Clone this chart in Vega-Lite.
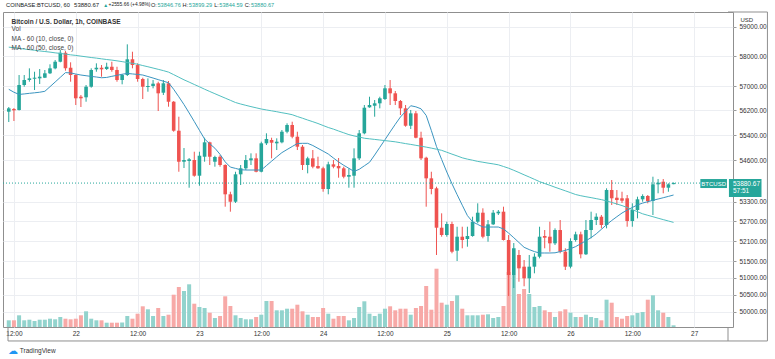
{
"$schema": "https://vega.github.io/schema/vega-lite/v6.json",
"width": 730, "height": 315,
"autosize": {"type": "none"},
"padding": {"left": 3, "top": 12, "right": 42, "bottom": 32},
"background": "white",
"config": {"font": "Liberation Sans", "view": {"stroke": "#8f8f8f", "strokeWidth": 1}},
"datasets": {"ohlc": [
{"t":"2021-03-21T11:00:00Z","o":56157,"h":56310,"l":55822,"c":56267,"v":268,"m10":56891,"m50":58299},
{"t":"2021-03-21T12:00:00Z","o":56245,"h":56277,"l":55855,"c":56202,"v":268,"m10":56795,"m50":58279},
{"t":"2021-03-21T13:00:00Z","o":56212,"h":57364,"l":56196,"c":57033,"v":468,"m10":56723,"m50":58259},
{"t":"2021-03-21T14:00:00Z","o":57033,"h":57364,"l":56977,"c":57198,"v":268,"m10":56739,"m50":58235},
{"t":"2021-03-21T15:00:00Z","o":57198,"h":57587,"l":57142,"c":57254,"v":292,"m10":56759,"m50":58215},
{"t":"2021-03-21T16:00:00Z","o":57241,"h":57474,"l":56868,"c":57275,"v":240,"m10":56776,"m50":58194},
{"t":"2021-03-21T17:00:00Z","o":57254,"h":57564,"l":57066,"c":57308,"v":292,"m10":56795,"m50":58171},
{"t":"2021-03-21T18:00:00Z","o":57275,"h":57531,"l":57264,"c":57421,"v":292,"m10":56825,"m50":58151},
{"t":"2021-03-21T19:00:00Z","o":57421,"h":57721,"l":57397,"c":57587,"v":332,"m10":56977,"m50":58131},
{"t":"2021-03-21T20:00:00Z","o":57587,"h":57865,"l":57554,"c":57808,"v":308,"m10":57132,"m50":58107},
{"t":"2021-03-21T21:00:00Z","o":57808,"h":58201,"l":57788,"c":58110,"v":400,"m10":57288,"m50":58087},
{"t":"2021-03-21T22:00:00Z","o":58110,"h":58167,"l":57508,"c":57587,"v":332,"m10":57444,"m50":58063},
{"t":"2021-03-21T23:00:00Z","o":57607,"h":57788,"l":57142,"c":57364,"v":308,"m10":57434,"m50":58040},
{"t":"2021-03-22T00:00:00Z","o":57364,"h":57387,"l":56375,"c":56595,"v":332,"m10":57397,"m50":58020},
{"t":"2021-03-22T01:00:00Z","o":56647,"h":56703,"l":56310,"c":56595,"v":468,"m10":57364,"m50":57996},
{"t":"2021-03-22T02:00:00Z","o":56628,"h":57033,"l":56483,"c":56977,"v":628,"m10":57341,"m50":57973},
{"t":"2021-03-22T03:00:00Z","o":56977,"h":57587,"l":56944,"c":57531,"v":332,"m10":57318,"m50":57949},
{"t":"2021-03-22T04:00:00Z","o":57554,"h":57754,"l":57474,"c":57607,"v":268,"m10":57298,"m50":57929},
{"t":"2021-03-22T05:00:00Z","o":57607,"h":57697,"l":57308,"c":57554,"v":268,"m10":57274,"m50":57905},
{"t":"2021-03-22T06:00:00Z","o":57564,"h":57774,"l":57531,"c":57640,"v":172,"m10":57284,"m50":57882},
{"t":"2021-03-22T07:00:00Z","o":57640,"h":57808,"l":57474,"c":57531,"v":172,"m10":57321,"m50":57862},
{"t":"2021-03-22T08:00:00Z","o":57531,"h":57640,"l":57142,"c":57198,"v":172,"m10":57354,"m50":57838},
{"t":"2021-03-22T09:00:00Z","o":57198,"h":57397,"l":57056,"c":57364,"v":180,"m10":57390,"m50":57811},
{"t":"2021-03-22T10:00:00Z","o":57364,"h":58394,"l":57331,"c":57889,"v":440,"m10":57417,"m50":57781},
{"t":"2021-03-22T11:00:00Z","o":57889,"h":58144,"l":57587,"c":57697,"v":332,"m10":57400,"m50":57754},
{"t":"2021-03-22T12:00:00Z","o":57697,"h":57754,"l":57142,"c":57231,"v":532,"m10":57384,"m50":57724},
{"t":"2021-03-22T13:00:00Z","o":57231,"h":57275,"l":56572,"c":56977,"v":828,"m10":57364,"m50":57680},
{"t":"2021-03-22T14:00:00Z","o":56967,"h":57254,"l":56812,"c":57000,"v":708,"m10":57314,"m50":57640},
{"t":"2021-03-22T15:00:00Z","o":57000,"h":57198,"l":56923,"c":57076,"v":440,"m10":57264,"m50":57597},
{"t":"2021-03-22T16:00:00Z","o":57089,"h":57142,"l":56179,"c":56759,"v":760,"m10":57211,"m50":57554},
{"t":"2021-03-22T17:00:00Z","o":56779,"h":57198,"l":56703,"c":57089,"v":440,"m10":57158,"m50":57511},
{"t":"2021-03-22T18:00:00Z","o":57089,"h":57165,"l":56320,"c":56483,"v":492,"m10":57109,"m50":57461},
{"t":"2021-03-22T19:00:00Z","o":56483,"h":56506,"l":55509,"c":55541,"v":1292,"m10":56891,"m50":57377},
{"t":"2021-03-22T20:00:00Z","o":55541,"h":55994,"l":54236,"c":54552,"v":1600,"m10":56644,"m50":57291},
{"t":"2021-03-22T21:00:00Z","o":54552,"h":54987,"l":54353,"c":54606,"v":1440,"m10":56391,"m50":57205},
{"t":"2021-03-22T22:00:00Z","o":54574,"h":54669,"l":53736,"c":54628,"v":1708,"m10":56117,"m50":57129},
{"t":"2021-03-22T23:00:00Z","o":54606,"h":54869,"l":54080,"c":54111,"v":932,"m10":55838,"m50":57050},
{"t":"2021-03-23T00:00:00Z","o":54111,"h":54869,"l":53798,"c":54742,"v":800,"m10":55554,"m50":56974},
{"t":"2021-03-23T01:00:00Z","o":54710,"h":55316,"l":54552,"c":55169,"v":760,"m10":55275,"m50":56894},
{"t":"2021-03-23T02:00:00Z","o":55169,"h":55189,"l":54448,"c":54710,"v":572,"m10":55121,"m50":56819},
{"t":"2021-03-23T03:00:00Z","o":54552,"h":54742,"l":54395,"c":54701,"v":360,"m10":54981,"m50":56746},
{"t":"2021-03-23T04:00:00Z","o":54710,"h":54764,"l":54395,"c":54448,"v":440,"m10":54786,"m50":56673},
{"t":"2021-03-23T05:00:00Z","o":54448,"h":54470,"l":53148,"c":53531,"v":1228,"m10":54546,"m50":56601},
{"t":"2021-03-23T06:00:00Z","o":53531,"h":53611,"l":52994,"c":53301,"v":840,"m10":54382,"m50":56529},
{"t":"2021-03-23T07:00:00Z","o":53301,"h":54236,"l":53262,"c":54155,"v":468,"m10":54341,"m50":56457},
{"t":"2021-03-23T08:00:00Z","o":54155,"h":54448,"l":53820,"c":54344,"v":360,"m10":54299,"m50":56408},
{"t":"2021-03-23T09:00:00Z","o":54344,"h":54764,"l":54290,"c":54606,"v":308,"m10":54290,"m50":56365},
{"t":"2021-03-23T10:00:00Z","o":54597,"h":54818,"l":54448,"c":54659,"v":308,"m10":54290,"m50":56323},
{"t":"2021-03-23T11:00:00Z","o":54659,"h":54818,"l":54217,"c":54236,"v":400,"m10":54290,"m50":56284},
{"t":"2021-03-23T12:00:00Z","o":54236,"h":55189,"l":54217,"c":55137,"v":492,"m10":54290,"m50":56245},
{"t":"2021-03-23T13:00:00Z","o":55137,"h":55458,"l":55083,"c":55275,"v":1040,"m10":54429,"m50":56215},
{"t":"2021-03-23T14:00:00Z","o":55243,"h":55316,"l":54659,"c":55157,"v":1040,"m10":54568,"m50":56186},
{"t":"2021-03-23T15:00:00Z","o":55137,"h":55297,"l":54923,"c":55189,"v":668,"m10":54707,"m50":56157},
{"t":"2021-03-23T16:00:00Z","o":55169,"h":55564,"l":55137,"c":55509,"v":668,"m10":54840,"m50":56124},
{"t":"2021-03-23T17:00:00Z","o":55509,"h":55780,"l":55458,"c":55725,"v":732,"m10":54939,"m50":56095},
{"t":"2021-03-23T18:00:00Z","o":55725,"h":55832,"l":55297,"c":55349,"v":732,"m10":55035,"m50":56059},
{"t":"2021-03-23T19:00:00Z","o":55349,"h":55509,"l":54923,"c":55029,"v":892,"m10":55131,"m50":56000},
{"t":"2021-03-23T20:00:00Z","o":55029,"h":55083,"l":54290,"c":54448,"v":628,"m10":55137,"m50":55945},
{"t":"2021-03-23T21:00:00Z","o":54448,"h":54710,"l":54186,"c":54659,"v":492,"m10":55137,"m50":55887},
{"t":"2021-03-23T22:00:00Z","o":54659,"h":54923,"l":54344,"c":54395,"v":400,"m10":55067,"m50":55832},
{"t":"2021-03-23T23:00:00Z","o":54417,"h":54710,"l":54330,"c":54344,"v":400,"m10":54977,"m50":55774},
{"t":"2021-03-24T00:00:00Z","o":54344,"h":54395,"l":53611,"c":53695,"v":760,"m10":54888,"m50":55709},
{"t":"2021-03-24T01:00:00Z","o":53695,"h":54552,"l":53531,"c":54470,"v":532,"m10":54796,"m50":55645},
{"t":"2021-03-24T02:00:00Z","o":54470,"h":54606,"l":54344,"c":54395,"v":332,"m10":54669,"m50":55593},
{"t":"2021-03-24T03:00:00Z","o":54417,"h":54669,"l":54049,"c":54344,"v":440,"m10":54546,"m50":55532},
{"t":"2021-03-24T04:00:00Z","o":54344,"h":54395,"l":54029,"c":54080,"v":440,"m10":54439,"m50":55474},
{"t":"2021-03-24T05:00:00Z","o":54080,"h":54344,"l":53736,"c":54133,"v":268,"m10":54344,"m50":55416},
{"t":"2021-03-24T06:00:00Z","o":54111,"h":54977,"l":53736,"c":54659,"v":360,"m10":54246,"m50":55374},
{"t":"2021-03-24T07:00:00Z","o":54659,"h":55564,"l":54606,"c":55458,"v":800,"m10":54312,"m50":55339},
{"t":"2021-03-24T08:00:00Z","o":55458,"h":56375,"l":55426,"c":56287,"v":1028,"m10":54423,"m50":55300},
{"t":"2021-03-24T09:00:00Z","o":56300,"h":56647,"l":56287,"c":56375,"v":532,"m10":54533,"m50":55281},
{"t":"2021-03-24T10:00:00Z","o":56352,"h":56539,"l":55994,"c":56431,"v":440,"m10":54764,"m50":55262},
{"t":"2021-03-24T11:00:00Z","o":56431,"h":56647,"l":56267,"c":56595,"v":532,"m10":55009,"m50":55243},
{"t":"2021-03-24T12:00:00Z","o":56572,"h":57033,"l":56539,"c":56924,"v":732,"m10":55252,"m50":55224},
{"t":"2021-03-24T13:00:00Z","o":56924,"h":57198,"l":56375,"c":56759,"v":828,"m10":55503,"m50":55205},
{"t":"2021-03-24T14:00:00Z","o":56759,"h":56835,"l":56375,"c":56506,"v":668,"m10":55748,"m50":55185},
{"t":"2021-03-24T15:00:00Z","o":56506,"h":56539,"l":56049,"c":56267,"v":732,"m10":55984,"m50":55157},
{"t":"2021-03-24T16:00:00Z","o":56267,"h":56375,"l":55670,"c":55702,"v":732,"m10":56166,"m50":55128},
{"t":"2021-03-24T17:00:00Z","o":55702,"h":56212,"l":55596,"c":56104,"v":492,"m10":56352,"m50":55102},
{"t":"2021-03-24T18:00:00Z","o":56104,"h":56179,"l":55297,"c":55316,"v":760,"m10":56316,"m50":55073},
{"t":"2021-03-24T19:00:00Z","o":55316,"h":55509,"l":54606,"c":54659,"v":840,"m10":56251,"m50":55045},
{"t":"2021-03-24T20:00:00Z","o":54678,"h":54710,"l":53148,"c":54029,"v":1640,"m10":56036,"m50":55016},
{"t":"2021-03-24T21:00:00Z","o":54029,"h":54236,"l":53531,"c":53695,"v":692,"m10":55548,"m50":54984},
{"t":"2021-03-24T22:00:00Z","o":53717,"h":53767,"l":51680,"c":52504,"v":2332,"m10":55035,"m50":54949},
{"t":"2021-03-24T23:00:00Z","o":52504,"h":52944,"l":52231,"c":52282,"v":972,"m10":54623,"m50":54913},
{"t":"2021-03-25T00:00:00Z","o":52282,"h":52687,"l":52231,"c":52617,"v":892,"m10":54227,"m50":54853},
{"t":"2021-03-25T01:00:00Z","o":52617,"h":52687,"l":51731,"c":51779,"v":1040,"m10":53861,"m50":54793},
{"t":"2021-03-25T02:00:00Z","o":51809,"h":52534,"l":51500,"c":52231,"v":1268,"m10":53521,"m50":54736},
{"t":"2021-03-25T03:00:00Z","o":52231,"h":52534,"l":51881,"c":52131,"v":732,"m10":53194,"m50":54676},
{"t":"2021-03-25T04:00:00Z","o":52161,"h":52534,"l":51929,"c":52252,"v":468,"m10":52874,"m50":54634},
{"t":"2021-03-25T05:00:00Z","o":52252,"h":52840,"l":52231,"c":52687,"v":468,"m10":52684,"m50":54600},
{"t":"2021-03-25T06:00:00Z","o":52687,"h":53252,"l":52638,"c":52963,"v":468,"m10":52604,"m50":54562},
{"t":"2021-03-25T07:00:00Z","o":52963,"h":53098,"l":52182,"c":52231,"v":492,"m10":52525,"m50":54536},
{"t":"2021-03-25T08:00:00Z","o":52252,"h":52739,"l":52080,"c":52607,"v":508,"m10":52525,"m50":54508},
{"t":"2021-03-25T09:00:00Z","o":52607,"h":53046,"l":52586,"c":52963,"v":360,"m10":52525,"m50":54483},
{"t":"2021-03-25T10:00:00Z","o":52944,"h":53046,"l":52892,"c":52994,"v":400,"m10":52525,"m50":54454},
{"t":"2021-03-25T11:00:00Z","o":52994,"h":53148,"l":52116,"c":52131,"v":840,"m10":52467,"m50":54401},
{"t":"2021-03-25T12:00:00Z","o":52131,"h":52282,"l":50466,"c":51084,"v":2200,"m10":52340,"m50":54347},
{"t":"2021-03-25T13:00:00Z","o":51084,"h":52040,"l":50700,"c":51881,"v":2080,"m10":52200,"m50":54281},
{"t":"2021-03-25T14:00:00Z","o":51680,"h":51830,"l":50886,"c":51282,"v":1320,"m10":52056,"m50":54212},
{"t":"2021-03-25T15:00:00Z","o":51331,"h":51530,"l":50751,"c":50986,"v":1520,"m10":51911,"m50":54139},
{"t":"2021-03-25T16:00:00Z","o":50986,"h":51680,"l":50554,"c":51331,"v":1320,"m10":51842,"m50":54070},
{"t":"2021-03-25T17:00:00Z","o":51331,"h":51731,"l":51134,"c":51629,"v":800,"m10":51782,"m50":53998},
{"t":"2021-03-25T18:00:00Z","o":51629,"h":52534,"l":51580,"c":52231,"v":840,"m10":51740,"m50":53926},
{"t":"2021-03-25T19:00:00Z","o":52252,"h":52434,"l":51881,"c":52201,"v":668,"m10":51740,"m50":53867},
{"t":"2021-03-25T20:00:00Z","o":52231,"h":52687,"l":51779,"c":52031,"v":600,"m10":51740,"m50":53811},
{"t":"2021-03-25T21:00:00Z","o":52031,"h":52485,"l":51980,"c":52434,"v":400,"m10":51746,"m50":53751},
{"t":"2021-03-25T22:00:00Z","o":52434,"h":52739,"l":51731,"c":51779,"v":628,"m10":51782,"m50":53695},
{"t":"2021-03-25T23:00:00Z","o":51779,"h":51881,"l":51232,"c":51331,"v":708,"m10":51818,"m50":53639},
{"t":"2021-03-26T00:00:00Z","o":51331,"h":52182,"l":51282,"c":52101,"v":572,"m10":51869,"m50":53583},
{"t":"2021-03-26T01:00:00Z","o":52131,"h":52383,"l":52080,"c":52303,"v":400,"m10":51932,"m50":53524},
{"t":"2021-03-26T02:00:00Z","o":52303,"h":52383,"l":51580,"c":51701,"v":400,"m10":52019,"m50":53487},
{"t":"2021-03-26T03:00:00Z","o":51701,"h":52739,"l":51680,"c":52434,"v":492,"m10":52110,"m50":53456},
{"t":"2021-03-26T04:00:00Z","o":52434,"h":52994,"l":52182,"c":52739,"v":400,"m10":52203,"m50":53428},
{"t":"2021-03-26T05:00:00Z","o":52739,"h":52944,"l":52586,"c":52840,"v":360,"m10":52318,"m50":53397},
{"t":"2021-03-26T06:00:00Z","o":52840,"h":52892,"l":52485,"c":52586,"v":268,"m10":52455,"m50":53366},
{"t":"2021-03-26T07:00:00Z","o":52586,"h":53717,"l":52485,"c":53664,"v":1092,"m10":52595,"m50":53326},
{"t":"2021-03-26T08:00:00Z","o":53664,"h":53976,"l":53200,"c":53407,"v":972,"m10":52724,"m50":53280},
{"t":"2021-03-26T09:00:00Z","o":53425,"h":53664,"l":53200,"c":53354,"v":400,"m10":52840,"m50":53231},
{"t":"2021-03-26T10:00:00Z","o":53407,"h":53611,"l":53262,"c":53333,"v":332,"m10":52953,"m50":53182},
{"t":"2021-03-26T11:00:00Z","o":53407,"h":53509,"l":52534,"c":52708,"v":440,"m10":53043,"m50":53123},
{"t":"2021-03-26T12:00:00Z","o":52708,"h":53252,"l":52534,"c":53046,"v":468,"m10":53123,"m50":53058},
{"t":"2021-03-26T13:00:00Z","o":53046,"h":53457,"l":52790,"c":53376,"v":560,"m10":53203,"m50":52994},
{"t":"2021-03-26T14:00:00Z","o":53376,"h":53531,"l":53301,"c":53478,"v":600,"m10":53259,"m50":52929},
{"t":"2021-03-26T15:00:00Z","o":53478,"h":53509,"l":53252,"c":53323,"v":1092,"m10":53302,"m50":52883},
{"t":"2021-03-26T16:00:00Z","o":53323,"h":54080,"l":52892,"c":53842,"v":1268,"m10":53345,"m50":52840},
{"t":"2021-03-26T17:00:00Z","o":53842,"h":54007,"l":53562,"c":53892,"v":668,"m10":53385,"m50":52794},
{"t":"2021-03-26T18:00:00Z","o":53923,"h":54007,"l":53562,"c":53736,"v":572,"m10":53425,"m50":52751},
{"t":"2021-03-26T19:00:00Z","o":53736,"h":53873,"l":53611,"c":53842,"v":400,"m10":53466,"m50":52709},
{"t":"2021-03-26T20:00:00Z","o":53846.76,"h":53899.29,"l":53844.59,"c":53880.67,"v":68,"m10":53509,"m50":52666}
]},
"layer": [
{"data": {"name": "ohlc"},
 "mark": {"type": "bar", "width": 4, "clip": true},
 "encoding": {
  "x": {"field": "t", "type": "temporal",
   "scale": {"type": "utc", "domain": [{"year":2021,"month":3,"date":21,"hours":10,"minutes":51,"utc":true},{"year":2021,"month":3,"date":27,"hours":6,"minutes":34,"utc":true}]},
   "axis": {"title": null, "values": [
     {"year":2021,"month":3,"date":21,"hours":12,"utc":true},{"year":2021,"month":3,"date":22,"hours":0,"utc":true},
     {"year":2021,"month":3,"date":22,"hours":12,"utc":true},{"year":2021,"month":3,"date":23,"hours":0,"utc":true},
     {"year":2021,"month":3,"date":23,"hours":12,"utc":true},{"year":2021,"month":3,"date":24,"hours":0,"utc":true},
     {"year":2021,"month":3,"date":24,"hours":12,"utc":true},{"year":2021,"month":3,"date":25,"hours":0,"utc":true},
     {"year":2021,"month":3,"date":25,"hours":12,"utc":true},{"year":2021,"month":3,"date":26,"hours":0,"utc":true},
     {"year":2021,"month":3,"date":26,"hours":12,"utc":true},{"year":2021,"month":3,"date":27,"hours":0,"utc":true}],
    "labelExpr": "utchours(datum.value) == 0 ? utcFormat(datum.value, '%-d') : '12:00'",
    "labelFontSize": 6.5, "labelColor": "#333333", "ticks": false, "domain": false, "grid": true, "gridColor": "#eceef2",
    "labelPadding": 3, "labelOverlap": false, "labelFlush": false, "labelBound": false}},
  "y": {"field": "v", "type": "quantitative", "scale": {"domain": [0, 12600]}, "axis": null},
  "color": {"condition": {"test": "datum.c >= datum.o", "value": "#92d3cd"}, "value": "#f7a9a7"}
 }},
{"layer": [
 {"data": {"name": "ohlc"},
  "mark": {"type": "rule", "strokeWidth": 1, "clip": true},
  "encoding": {
   "x": {"field": "t", "type": "temporal"},
   "y": {"field": "l", "type": "quantitative",
    "scale": {"type": "log", "domain": [49567, 59499], "nice": false, "zero": false},
    "axis": {"orient": "right", "title": null, "values": [50000,50500,51000,51500,52100,52700,53300,54600,55400,56200,57000,58000,59000],
     "format": ".2f", "labelFontSize": 6.5, "labelColor": "#333333", "tickSize": 3, "tickColor": "#9a9a9a", "domain": false,
     "grid": true, "gridColor": "#eceef2", "labelPadding": 3, "labelOverlap": false, "labelBound": false, "labelFlush": false}},
   "y2": {"field": "h"},
   "color": {"condition": {"test": "datum.c >= datum.o", "value": "#26a69a"}, "value": "#ef5350"}
  }},
 {"data": {"name": "ohlc"},
  "mark": {"type": "bar", "width": 3.6, "clip": true},
  "encoding": {
   "x": {"field": "t", "type": "temporal"},
   "y": {"field": "o", "type": "quantitative"},
   "y2": {"field": "c"},
   "color": {"condition": {"test": "datum.c >= datum.o", "value": "#26a69a"}, "value": "#ef5350"}
  }},
 {"data": {"name": "ohlc"},
  "mark": {"type": "line", "strokeWidth": 1, "color": "#3b95c0", "clip": true},
  "encoding": {"x": {"field": "t", "type": "temporal"}, "y": {"field": "m10", "type": "quantitative"}}},
 {"data": {"name": "ohlc"},
  "mark": {"type": "line", "strokeWidth": 1, "color": "#52bfc0", "clip": true},
  "encoding": {"x": {"field": "t", "type": "temporal"}, "y": {"field": "m50", "type": "quantitative"}}},
 {"data": {"values": [{}]},
  "mark": {"type": "rule", "strokeDash": [1, 2], "color": "#26a69a", "strokeWidth": 1},
  "encoding": {"y": {"datum": 53880.67, "type": "quantitative"}}},
 {"data": {"values": [{}]},
  "mark": {"type": "rect", "color": "#26a69a", "clip": false},
  "encoding": {
   "x": {"datum": {"year":2021,"month":3,"date":27,"hours":1,"minutes":12,"utc":true}, "type": "temporal"},
   "x2": {"datum": {"year":2021,"month":3,"date":27,"hours":6,"minutes":22,"utc":true}},
   "y": {"datum": 54007, "type": "quantitative"}, "y2": {"datum": 53726}}},
 {"data": {"values": [{}]},
  "mark": {"type": "rect", "color": "#26a69a", "clip": false},
  "encoding": {
   "x": {"datum": {"year":2021,"month":3,"date":27,"hours":6,"minutes":45,"utc":true}, "type": "temporal"},
   "x2": {"datum": {"year":2021,"month":3,"date":27,"hours":13,"minutes":4,"utc":true}},
   "y": {"datum": 54007, "type": "quantitative"}, "y2": {"datum": 53447}}},
 {"data": {"values": [{}]},
  "mark": {"type": "text", "text": "BTCUSD", "color": "white", "fontSize": 6, "align": "center", "baseline": "middle", "clip": false},
  "encoding": {"x": {"datum": {"year":2021,"month":3,"date":27,"hours":3,"minutes":47,"utc":true}, "type": "temporal"}, "y": {"datum": 53867, "type": "quantitative"}}},
 {"data": {"values": [{}]},
  "mark": {"type": "text", "text": "53880.67", "color": "white", "fontSize": 6.5, "align": "left", "baseline": "middle", "clip": false},
  "encoding": {"x": {"datum": {"year":2021,"month":3,"date":27,"hours":7,"minutes":31,"utc":true}, "type": "temporal"}, "y": {"datum": 53867, "type": "quantitative"}}},
 {"data": {"values": [{}]},
  "mark": {"type": "text", "text": "57:51", "color": "white", "fontSize": 6.5, "align": "left", "baseline": "middle", "clip": false},
  "encoding": {"x": {"datum": {"year":2021,"month":3,"date":27,"hours":7,"minutes":31,"utc":true}, "type": "temporal"}, "y": {"datum": 53633, "type": "quantitative"}}},
 {"data": {"values": [{}]},
  "mark": {"type": "text", "text": "USD", "color": "#333333", "fontSize": 6, "align": "center", "baseline": "middle", "clip": false},
  "encoding": {"x": {"datum": {"year":2021,"month":3,"date":27,"hours":10,"minutes":12,"utc":true}, "type": "temporal"}, "y": {"datum": 59239, "type": "quantitative"}}},
 {"data": {"values": [{}]},
  "mark": {"type": "text", "text": "Bitcoin / U.S. Dollar, 1h, COINBASE", "color": "#333333", "fontSize": 6.5, "fontWeight": "bold", "align": "left", "baseline": "middle", "clip": false},
  "encoding": {"x": {"datum": {"year":2021,"month":3,"date":21,"hours":11,"minutes":33,"utc":true}, "type": "temporal"}, "y": {"datum": 59164, "type": "quantitative"}}},
 {"data": {"values": [{}]},
  "mark": {"type": "text", "text": "Vol", "color": "#444444", "fontSize": 6.5, "align": "left", "baseline": "middle", "clip": false},
  "encoding": {"x": {"datum": {"year":2021,"month":3,"date":21,"hours":11,"minutes":33,"utc":true}, "type": "temporal"}, "y": {"datum": 58904, "type": "quantitative"}}},
 {"data": {"values": [{}]},
  "mark": {"type": "text", "text": "MA - 60 (10, close, 0)", "color": "#444444", "fontSize": 6.5, "align": "left", "baseline": "middle", "clip": false},
  "encoding": {"x": {"datum": {"year":2021,"month":3,"date":21,"hours":11,"minutes":33,"utc":true}, "type": "temporal"}, "y": {"datum": 58563, "type": "quantitative"}}},
 {"data": {"values": [{}]},
  "mark": {"type": "text", "text": "MA - 60 (50, close, 0)", "color": "#444444", "fontSize": 6.5, "align": "left", "baseline": "middle", "clip": false},
  "encoding": {"x": {"datum": {"year":2021,"month":3,"date":21,"hours":11,"minutes":33,"utc":true}, "type": "temporal"}, "y": {"datum": 58259, "type": "quantitative"}}},
 {"data": {"values": [{}]},
  "mark": {"type": "text", "text": "COINBASE:BTCUSD, 60", "color": "#131722", "fontSize": 5.7, "align": "left", "baseline": "middle", "clip": false},
  "encoding": {"x": {"datum": {"year":2021,"month":3,"date":21,"hours":10,"minutes":28,"utc":true}, "type": "temporal"}, "y": {"datum": 59739, "type": "quantitative"}}},
 {"data": {"values": [{}]},
  "mark": {"type": "text", "text": "53880.67", "color": "#222222", "fontSize": 6, "align": "left", "baseline": "middle", "clip": false},
  "encoding": {"x": {"datum": {"year":2021,"month":3,"date":21,"hours":23,"minutes":40,"utc":true}, "type": "temporal"}, "y": {"datum": 59739, "type": "quantitative"}}},
 {"data": {"values": [{}]},
  "mark": {"type": "text", "text": "▲", "color": "#26a69a", "fontSize": 5, "align": "left", "baseline": "middle", "clip": false},
  "encoding": {"x": {"datum": {"year":2021,"month":3,"date":22,"hours":5,"minutes":19,"utc":true}, "type": "temporal"}, "y": {"datum": 59739, "type": "quantitative"}}},
 {"data": {"values": [{}]},
  "mark": {"type": "text", "text": "+2555.66 (+4.98%)", "color": "#222222", "fontSize": 4.9, "align": "left", "baseline": "middle", "clip": false},
  "encoding": {"x": {"datum": {"year":2021,"month":3,"date":22,"hours":6,"minutes":22,"utc":true}, "type": "temporal"}, "y": {"datum": 59739, "type": "quantitative"}}},
 {"data": {"values": [{}]},
  "mark": {"type": "text", "text": "O:", "color": "#222222", "fontSize": 5.6, "align": "left", "baseline": "middle", "clip": false},
  "encoding": {"x": {"datum": {"year":2021,"month":3,"date":22,"hours":14,"minutes":36,"utc":true}, "type": "temporal"}, "y": {"datum": 59739, "type": "quantitative"}}},
 {"data": {"values": [{}]},
  "mark": {"type": "text", "text": "53846.76", "color": "#26a69a", "fontSize": 5.6, "align": "left", "baseline": "middle", "clip": false},
  "encoding": {"x": {"datum": {"year":2021,"month":3,"date":22,"hours":15,"minutes":51,"utc":true}, "type": "temporal"}, "y": {"datum": 59739, "type": "quantitative"}}},
 {"data": {"values": [{}]},
  "mark": {"type": "text", "text": "H:", "color": "#222222", "fontSize": 5.6, "align": "left", "baseline": "middle", "clip": false},
  "encoding": {"x": {"datum": {"year":2021,"month":3,"date":22,"hours":20,"minutes":44,"utc":true}, "type": "temporal"}, "y": {"datum": 59739, "type": "quantitative"}}},
 {"data": {"values": [{}]},
  "mark": {"type": "text", "text": "53899.29", "color": "#26a69a", "fontSize": 5.6, "align": "left", "baseline": "middle", "clip": false},
  "encoding": {"x": {"datum": {"year":2021,"month":3,"date":22,"hours":21,"minutes":56,"utc":true}, "type": "temporal"}, "y": {"datum": 59739, "type": "quantitative"}}},
 {"data": {"values": [{}]},
  "mark": {"type": "text", "text": "L:", "color": "#222222", "fontSize": 5.6, "align": "left", "baseline": "middle", "clip": false},
  "encoding": {"x": {"datum": {"year":2021,"month":3,"date":23,"hours":2,"minutes":51,"utc":true}, "type": "temporal"}, "y": {"datum": 59739, "type": "quantitative"}}},
 {"data": {"values": [{}]},
  "mark": {"type": "text", "text": "53844.59", "color": "#26a69a", "fontSize": 5.6, "align": "left", "baseline": "middle", "clip": false},
  "encoding": {"x": {"datum": {"year":2021,"month":3,"date":23,"hours":3,"minutes":52,"utc":true}, "type": "temporal"}, "y": {"datum": 59739, "type": "quantitative"}}},
 {"data": {"values": [{}]},
  "mark": {"type": "text", "text": "C:", "color": "#222222", "fontSize": 5.6, "align": "left", "baseline": "middle", "clip": false},
  "encoding": {"x": {"datum": {"year":2021,"month":3,"date":23,"hours":8,"minutes":47,"utc":true}, "type": "temporal"}, "y": {"datum": 59739, "type": "quantitative"}}},
 {"data": {"values": [{}]},
  "mark": {"type": "text", "text": "53880.67", "color": "#26a69a", "fontSize": 5.6, "align": "left", "baseline": "middle", "clip": false},
  "encoding": {"x": {"datum": {"year":2021,"month":3,"date":23,"hours":9,"minutes":59,"utc":true}, "type": "temporal"}, "y": {"datum": 59739, "type": "quantitative"}}},
 {"data": {"values": [{}]},
  "mark": {"type": "text", "text": "TradingView", "color": "#333333", "fontSize": 6.5, "align": "left", "baseline": "middle", "clip": false},
  "encoding": {"x": {"datum": {"year":2021,"month":3,"date":21,"hours":13,"minutes":9,"utc":true}, "type": "temporal"}, "y": {"datum": 48882, "type": "quantitative"}}},
 {"data": {"values": [{}]},
  "mark": {"type": "text", "text": "☁", "color": "#2196f3", "fontSize": 10, "align": "center", "baseline": "middle", "clip": false},
  "encoding": {"x": {"datum": {"year":2021,"month":3,"date":21,"hours":11,"minutes":49,"utc":true}, "type": "temporal"}, "y": {"datum": 48882, "type": "quantitative"}}},
 {"data": {"values": [{}]},
  "mark": {"type": "rule", "color": "#8f8f8f", "strokeWidth": 1, "clip": false},
  "encoding": {"x": {"datum": {"year":2021,"month":3,"date":27,"hours":6,"minutes":34,"utc":true}, "type": "temporal"},
   "x2": {"datum": {"year":2021,"month":3,"date":27,"hours":14,"minutes":13,"utc":true}}, "y": {"datum": 59499, "type": "quantitative"}}},
 {"data": {"values": [{}]},
  "mark": {"type": "rule", "color": "#8f8f8f", "strokeWidth": 1, "clip": false},
  "encoding": {"x": {"datum": {"year":2021,"month":3,"date":21,"hours":10,"minutes":51,"utc":true}, "type": "temporal"},
   "x2": {"datum": {"year":2021,"month":3,"date":27,"hours":14,"minutes":13,"utc":true}}, "y": {"datum": 49167, "type": "quantitative"}}},
 {"data": {"values": [{}]},
  "mark": {"type": "rule", "color": "#8f8f8f", "strokeWidth": 1, "clip": false},
  "encoding": {"x": {"datum": {"year":2021,"month":3,"date":27,"hours":14,"minutes":13,"utc":true}, "type": "temporal"},
   "y": {"datum": 59499, "type": "quantitative"}, "y2": {"datum": 49167}}},
 {"data": {"values": [{}]},
  "mark": {"type": "rule", "color": "#8f8f8f", "strokeWidth": 1, "clip": false},
  "encoding": {"x": {"datum": {"year":2021,"month":3,"date":21,"hours":10,"minutes":51,"utc":true}, "type": "temporal"},
   "y": {"datum": 49567, "type": "quantitative"}, "y2": {"datum": 49167}}},
 {"data": {"values": [{}]},
  "mark": {"type": "rule", "color": "#8f8f8f", "strokeWidth": 1, "clip": false},
  "encoding": {"x": {"datum": {"year":2021,"month":3,"date":27,"hours":6,"minutes":34,"utc":true}, "type": "temporal"},
   "y": {"datum": 49567, "type": "quantitative"}, "y2": {"datum": 49167}}}
]}
],
"resolve": {"scale": {"y": "independent"}}
}
